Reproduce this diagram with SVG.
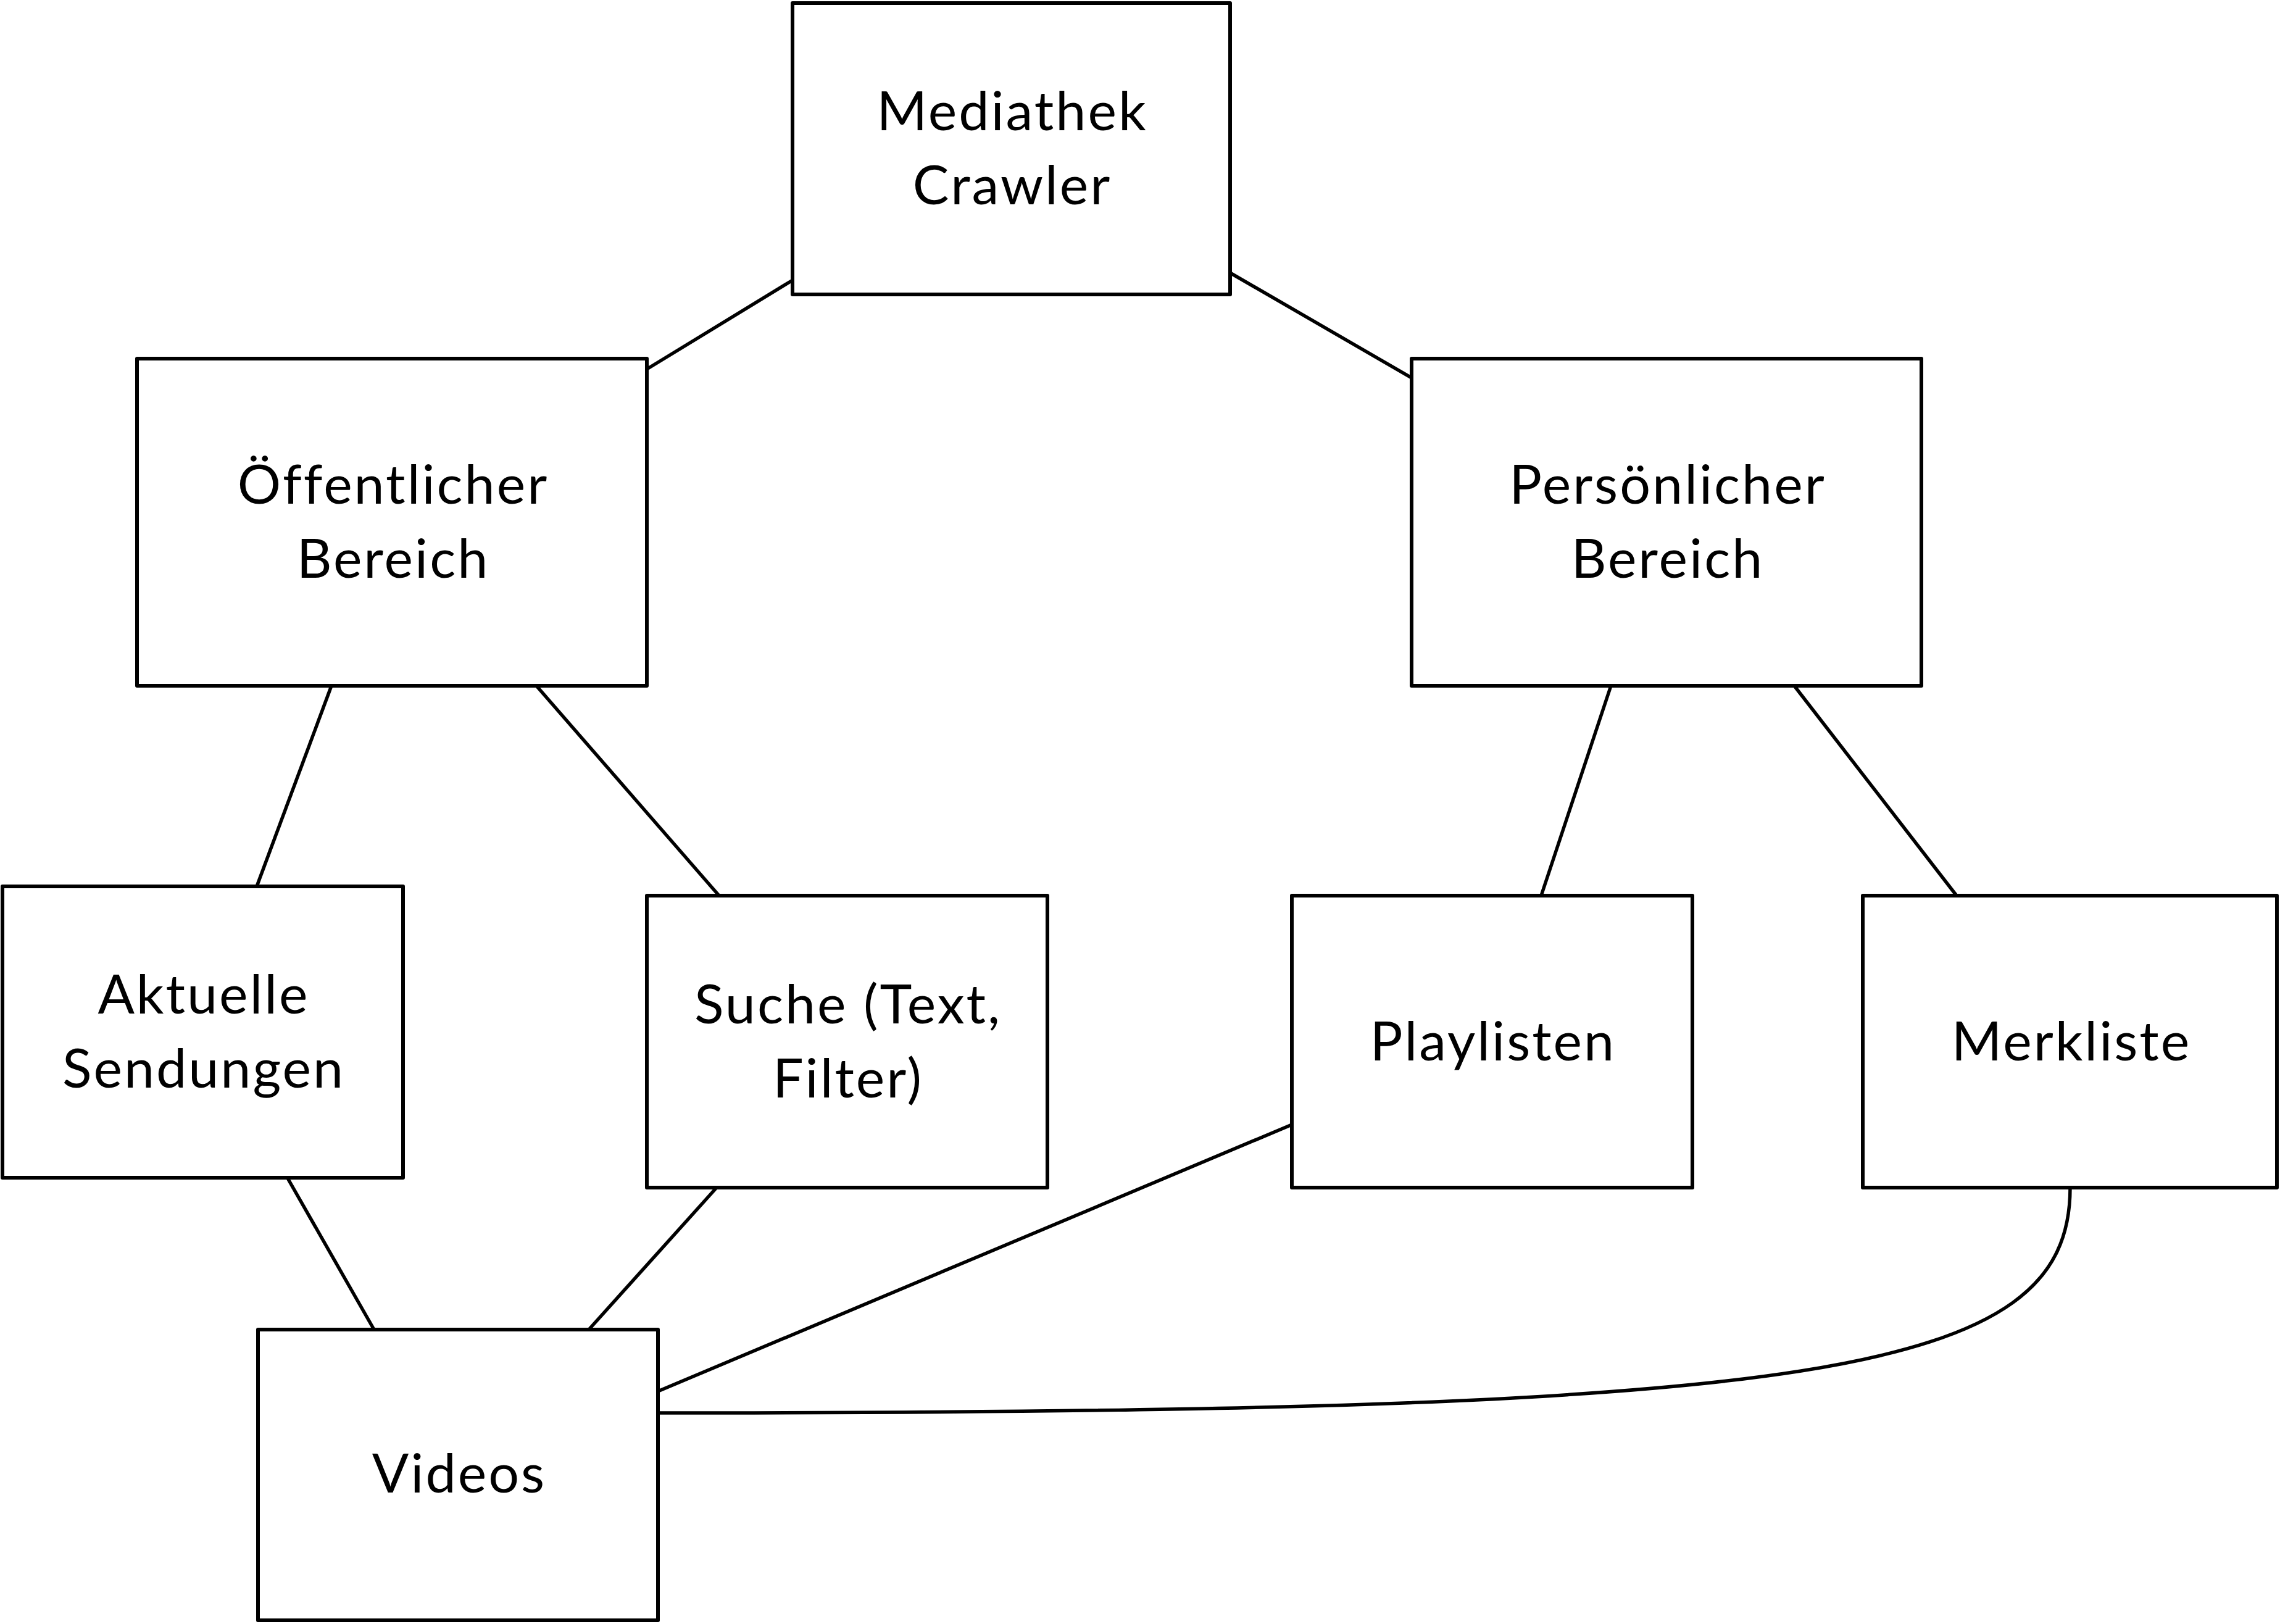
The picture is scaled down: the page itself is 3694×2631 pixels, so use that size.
<svg xmlns="http://www.w3.org/2000/svg" width="3694" height="2631" viewBox="0 0 3694 2631">
<style>
.box{fill:#fff;stroke:#000;stroke-width:6;stroke-linejoin:round}
.lbl{font-family:Lato,"Liberation Sans",sans-serif;font-size:88px;letter-spacing:3px;fill:#000;text-anchor:middle}
.conn{fill:none;stroke:#000;stroke-width:5.5}
</style>
<rect width="3694" height="2631" fill="#fff"/>
<g id="connectors">
<line class="conn" x1="1284" y1="454" x2="1048" y2="598"/>
<line class="conn" x1="1993" y1="442" x2="2287" y2="612"/>
<line class="conn" x1="537" y1="1111" x2="416" y2="1436"/>
<line class="conn" x1="869" y1="1111" x2="1165" y2="1451"/>
<line class="conn" x1="2610" y1="1111" x2="2497" y2="1451"/>
<line class="conn" x1="2907" y1="1111" x2="3170" y2="1451"/>
<line class="conn" x1="465" y1="1907" x2="606" y2="2154"/>
<line class="conn" x1="1161" y1="1924" x2="954" y2="2154"/>
<line class="conn" x1="2093" y1="1822" x2="1066" y2="2254"/>
<path class="conn" d="M3354 1924 C3354 2230 2950 2289 1066 2289"/>
</g>
<g id="n-mediathek">
<rect class="box" x="1284" y="5" width="709" height="472"/>
<text class="lbl" x="1640" y="211">Mediathek</text>
<text class="lbl" x="1640" y="331">Crawler</text>
</g>
<g id="n-oeffentlich">
<rect class="box" x="222" y="581" width="826" height="530"/>
<text class="lbl" x="637" y="816">Öffentlicher</text>
<text class="lbl" x="637" y="936">Bereich</text>
</g>
<g id="n-persoenlich">
<rect class="box" x="2287" y="581" width="826" height="530"/>
<text class="lbl" x="2702" y="816">Persönlicher</text>
<text class="lbl" x="2702" y="936">Bereich</text>
</g>
<g id="n-aktuelle">
<rect class="box" x="4" y="1436" width="649" height="472"/>
<text class="lbl" x="330" y="1642">Aktuelle</text>
<text class="lbl" x="330" y="1762">Sendungen</text>
</g>
<g id="n-suche">
<rect class="box" x="1048" y="1451" width="649" height="473"/>
<text class="lbl" x="1374" y="1658">Suche (Text,</text>
<text class="lbl" x="1374" y="1778">Filter)</text>
</g>
<g id="n-playlisten">
<rect class="box" x="2093" y="1451" width="649" height="473"/>
<text class="lbl" x="2419" y="1718">Playlisten</text>
</g>
<g id="n-merkliste">
<rect class="box" x="3018" y="1451" width="671" height="473"/>
<text class="lbl" x="3356" y="1718">Merkliste</text>
</g>
<g id="n-videos">
<rect class="box" x="418" y="2154" width="648" height="471"/>
<text class="lbl" x="744" y="2418">Videos</text>
</g>
</svg>
